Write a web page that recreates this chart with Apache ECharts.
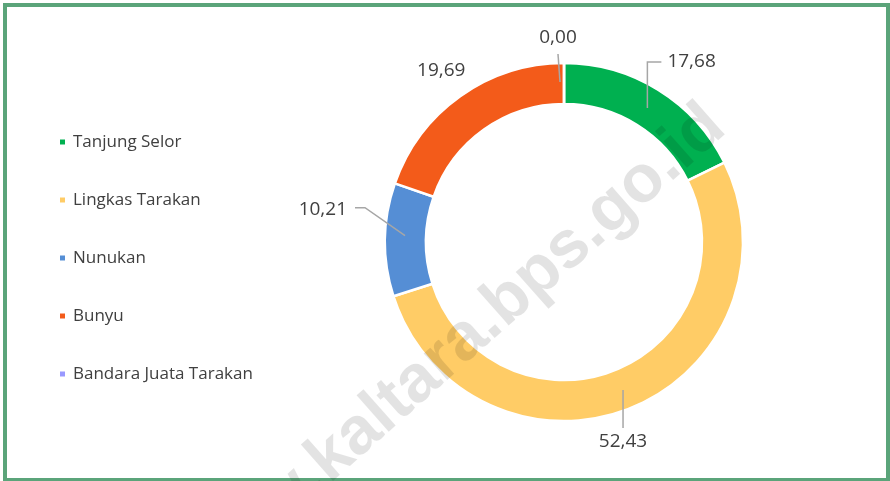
<!DOCTYPE html>
<html>
<head>
<meta charset="utf-8">
<script src="https://cdn.jsdelivr.net/npm/echarts@6/dist/echarts.min.js"></script>
<style>
  html, body { margin: 0; padding: 0; background: #fff; }
  #chart { width: 890px; height: 481px; }
</style>
</head>
<body>
<div id="chart"></div>
<script>
let names = ['Tanjung Selor', 'Lingkas Tarakan', 'Nunukan', 'Bunyu', 'Bandara Juata Tarakan'];
let values = [17.68, 52.43, 10.21, 19.69, 0.00];
let colors = ['#00B050', '#FFCC66', '#558ED5', '#F35B1A', '#9999FF'];

let chart = echarts.init(document.getElementById('chart'));

let pieData = names.map(function(n, i) {
    return { name: n, value: values[i], itemStyle: { color: colors[i] } };
});
// same values, only used to draw labels + leader lines on top of the ring
let labelData = names.map(function(n, i) {
    return { name: n, value: values[i] };
});

// label placement relative to the slice's outer mid point (like excel's leader lines)
function placeLabel(params) {
    let pts = params.labelLinePoints;
    if (!pts) return {};
    let sx = pts[0][0], sy = pts[0][1];
    switch (params.dataIndex) {
        case 0:
            return {
                x: sx + 9, y: sy - 28, align: 'left', verticalAlign: 'middle',
                labelLinePoints: [[sx - 11, sy + 18], [sx - 11, sy - 28], [sx + 3, sy - 28]]
            };
        case 1:
            return {
                x: sx - 8, y: sy + 34, align: 'center', verticalAlign: 'middle',
                labelLinePoints: [[sx - 8, sy - 18], [sx - 8, sy + 1], [sx - 8, sy + 20]]
            };
        case 2:
            return {
                x: sx - 38, y: sy - 30, align: 'right', verticalAlign: 'middle',
                labelLinePoints: [[sx + 20, sy - 4], [sx - 20, sy - 32], [sx - 30, sy - 32]]
            };
        case 3:
            return {
                x: sx - 19, y: sy - 26, align: 'center', verticalAlign: 'middle',
                labelLinePoints: [[sx, sy], [sx, sy], [sx, sy]]
            };
        default:
            return {
                x: sx - 6, y: sy - 25, align: 'center', verticalAlign: 'middle',
                labelLinePoints: [[sx - 4, sy + 19], [sx - 5, sy + 5], [sx - 6, sy - 9]]
            };
    }
}

let option = {
    animation: false,
    graphic: [{
        type: 'rect',
        shape: { x: 5, y: 5, width: 883, height: 475 },
        style: { fill: 'none', stroke: '#5BA47A', lineWidth: 4 },
        z: 100
    }, {
        // watermark
        type: 'text',
        x: 452,
        y: 351,
        rotation: 41.5 * Math.PI / 180,
        style: {
            text: 'www.kaltara.bps.go.id',
            font: 'bold 67px "Liberation Sans", Arial, sans-serif',
            fill: 'rgba(0,0,0,0.11)',
            textAlign: 'center',
            textVerticalAlign: 'middle'
        },
        z: 100
    }],
    legend: {
        orient: 'vertical',
        left: 53,
        top: 128,
        icon: 'rect',
        itemWidth: 7,
        itemHeight: 7,
        itemGap: 40,
        data: names,
        textStyle: {
            fontFamily: '"Open Sans", sans-serif',
            fontSize: 17,
            lineHeight: 18,
            color: '#404040',
            padding: [0, 0, 0, 2]
        }
    },
    series: [{
        type: 'pie',
        name: 'ring',
        center: [564, 242],
        radius: [138, 179],
        startAngle: 90,
        clockwise: true,
        itemStyle: { borderColor: '#fff', borderWidth: 2.5 },
        label: { show: false },
        labelLine: { show: false },
        emphasis: { disabled: true },
        data: pieData
    }, {
        type: 'pie',
        name: 'labels',
        z: 5,
        silent: true,
        legendHoverLink: false,
        center: [564, 242],
        radius: [138, 179],
        startAngle: 90,
        clockwise: true,
        avoidLabelOverlap: false,
        itemStyle: { color: 'transparent', borderWidth: 0 },
        label: {
            show: true,
            position: 'outside',
            fontFamily: '"Open Sans", sans-serif',
            fontSize: 19,
            color: '#404040',
            formatter: function(p) {
                return p.value.toFixed(2).replace('.', ',');
            }
        },
        labelLine: {
            show: true,
            length: 14,
            length2: 10,
            lineStyle: { color: '#A6A6A6', width: 1.5 }
        },
        labelLayout: placeLabel,
        emphasis: { disabled: true },
        data: labelData
    }]
};
chart.setOption(option);
</script>
</body>
</html>
